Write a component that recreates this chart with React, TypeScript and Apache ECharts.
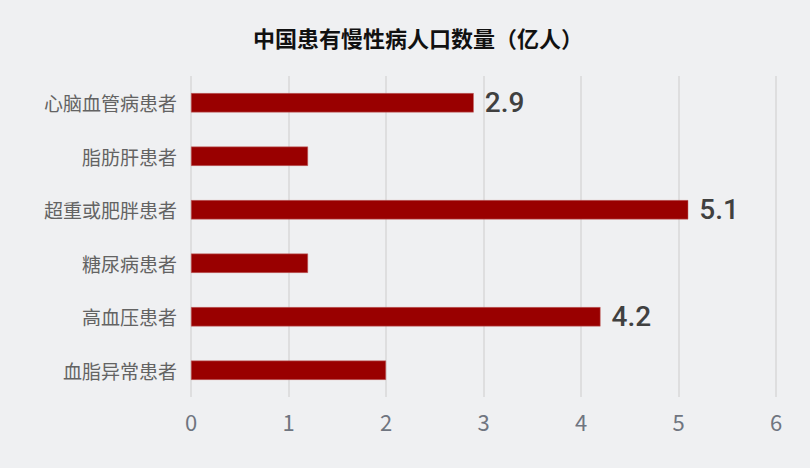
import React, { useEffect, useRef } from 'react';
import * as echarts from 'echarts';

const title = '中国患有慢性病人口数量（亿人）';
const categories = ['心脑血管病患者', '脂肪肝患者', '超重或肥胖患者', '糖尿病患者', '高血压患者', '血脂异常患者'];
const values = [2.9, 1.2, 5.1, 1.2, 4.2, 2.0];
const labelled = [true, false, true, false, true, false];

const App: React.FC = () => {
  const chartRef = useRef<HTMLDivElement>(null);

  useEffect(() => {
    document.body.style.margin = '0';
    if (!chartRef.current) return;
    const chart = echarts.init(chartRef.current, null, { renderer: 'svg' });

    // category axis runs bottom-up, so reverse for top-to-bottom order
    const cats = [...categories].reverse();
    const data = values
      .map((v, i) => ({
        value: v,
        label: { show: labelled[i] }
      }))
      .reverse();

    const option: echarts.EChartsOption = {
      animation: false,
      backgroundColor: '#eff0f2',
      title: {
        text: title,
        left: 248,
        top: 21,
        textStyle: {
          fontFamily: 'Noto Sans CJK SC',
          fontSize: 22,
          fontWeight: 'bold',
          color: '#111'
        }
      },
      grid: {
        left: 191,
        right: 34,
        top: 76,
        bottom: 71,
        containLabel: false
      },
      xAxis: {
        type: 'value',
        min: 0,
        max: 6,
        interval: 1,
        axisLine: { show: false },
        axisTick: { show: false },
        splitLine: { show: true, lineStyle: { color: '#d9d9d9', width: 1.5 } },
        axisLabel: {
          margin: 13,
          fontFamily: 'Noto Sans CJK SC',
          fontSize: 22,
          color: '#6f7580'
        }
      },
      yAxis: {
        type: 'category',
        data: cats,
        axisLine: { show: false },
        axisTick: { show: false },
        axisLabel: {
          margin: 14,
          fontFamily: 'Noto Sans CJK SC',
          fontSize: 19,
          color: '#636363'
        }
      },
      series: [
        {
          type: 'bar',
          data,
          barWidth: '36%',
          itemStyle: {
            color: '#990000',
            borderColor: '#c46a6a',
            borderWidth: 0.5
          },
          label: {
            position: 'right',
            distance: 11,
            fontFamily: 'Roboto',
            fontWeight: 500,
            fontSize: 28,
            color: '#404040',
            formatter: (p: any) => Number(p.value).toFixed(1)
          }
        }
      ]
    };

    chart.setOption(option);
    return () => chart.dispose();
  }, []);

  return <div ref={chartRef} style={{ width: 810, height: 468 }} />;
};

export default App;
